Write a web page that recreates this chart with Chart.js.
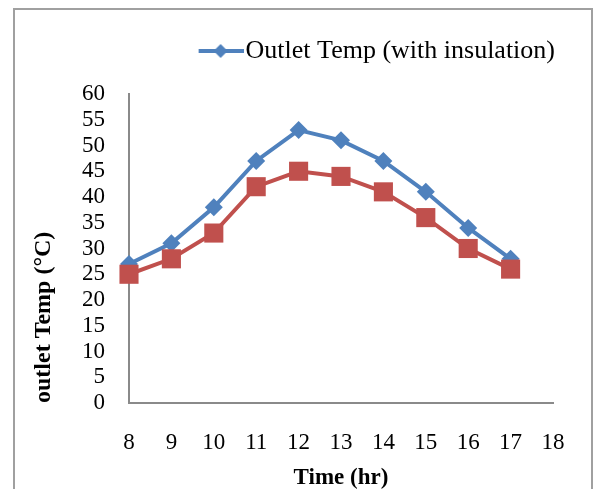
<!DOCTYPE html>
<html>
<head>
<meta charset="utf-8">
<script src="https://cdn.jsdelivr.net/npm/chart.js@4.4.0/dist/chart.umd.min.js"></script>
<style>
  body { margin: 0; background: #fff; }
  #frame { position: absolute; left: 13px; top: 8px; width: 576px; height: 490px; border: 2px solid #a0a0a0; border-bottom: none; }
  #wrap { position: absolute; left: 0; top: 0; width: 595px; height: 489px; }
</style>
</head>
<body>
<div id="frame"></div>
<div id="wrap"><canvas id="chart" width="595" height="489"></canvas></div>
<script>
// data
const hours = [8, 9, 10, 11, 12, 13, 14, 15, 16, 17];
const withInsulation = [27, 31, 38, 47, 53, 51, 47, 41, 34, 28];
const withoutInsulation = [25, 28, 33, 42, 45, 44, 41, 36, 30, 26];
const yTicks = [0, 5, 10, 15, 20, 25, 30, 35, 40, 45, 50, 55, 60];

const blue = "#4F81BD";
const red = "#C0504D";
const serif = "'Liberation Serif', 'Times New Roman', serif";

// legend symbol: line with a diamond on it, runs right up to the text
const legendIcon = document.createElement("canvas");
legendIcon.width = 56;
legendIcon.height = 16;
let g = legendIcon.getContext("2d");
g.strokeStyle = blue;
g.lineWidth = 4;
g.beginPath();
g.moveTo(11, 8);
g.lineTo(56, 8);
g.stroke();
g.fillStyle = blue;
g.beginPath();
g.moveTo(33, 1);
g.lineTo(40, 8);
g.lineTo(33, 15);
g.lineTo(26, 8);
g.closePath();
g.fill();

// give the legend more room underneath and push it a bit to the right
const legendTweak = {
    id: "legendTweak",
    beforeLayout(chart) {
        const lg = chart.legend;
        if (lg && !lg.patched) {
            const fit = lg.fit;
            lg.fit = function () { fit.call(this); this.height += 20; };
            lg.patched = true;
        }
    },
    afterLayout(chart) {
        chart.legend.right += 12;
        chart.legend.width += 12;
    }
};

function pts(xs, ys) {
    return xs.map((x, i) => ({x: x, y: ys[i]}));
}

new Chart("chart", {
    type: "line",
    data: {
        datasets: [{
            label: "Outlet Temp (with insulation)",
            data: pts(hours, withInsulation),
            borderColor: blue,
            backgroundColor: blue,
            borderWidth: 4,
            pointStyle: "rectRot",
            pointRadius: 9,
            pointBorderWidth: 0,
            clip: false,
            order: 1
        },
        {
            label: "Outlet Temp (without insulation)",
            data: pts(hours, withoutInsulation),
            borderColor: red,
            backgroundColor: red,
            borderWidth: 4,
            pointStyle: "rect",
            pointRadius: 13.5,
            pointBorderWidth: 0,
            clip: false,
            order: 0
        }]
    },
    options: {
        responsive: false,
        animation: false,
        layout: { padding: { top: 28, right: 42, left: 0, bottom: 0 } },
        plugins: {
            tooltip: { enabled: false },
            legend: {
                position: "top",
                align: "end",
                labels: {
                    filter: item => item.datasetIndex === 0,
                    usePointStyle: true,
                    pointStyle: legendIcon,
                    pointStyleWidth: 34,
                    color: "#000",
                    padding: 10,
                    font: { family: serif, size: 26 }
                }
            }
        },
        scales: {
            x: {
                type: "linear",
                min: 8,
                max: 18,
                grid: { display: false, drawTicks: false },
                border: { color: "#8a8a8a", width: 2 },
                ticks: { stepSize: 1, padding: 26, color: "#000", font: { family: serif, size: 23 } },
                title: { display: true, text: "Time (hr)", color: "#000", padding: { top: 0, bottom: -3 }, font: { family: serif, size: 23, weight: "bold" } },
                afterFit: s => { s.height = 86; }
            },
            y: {
                min: 0,
                max: 60,
                grid: { display: false, drawTicks: false },
                border: { color: "#8a8a8a", width: 2 },
                afterBuildTicks: s => { s.ticks = yTicks.map(v => ({value: v})); },
                ticks: { autoSkip: false, padding: 24, color: "#000", font: { family: serif, size: 23 } },
                title: { display: true, text: "outlet Temp (°C)", align: "start", color: "#000", padding: { top: 29, bottom: 0 }, font: { family: serif, size: 24, weight: "bold" } },
                afterFit: s => { s.width = 129; }
            }
        }
    },
    plugins: [legendTweak]
});
</script>
</body>
</html>
